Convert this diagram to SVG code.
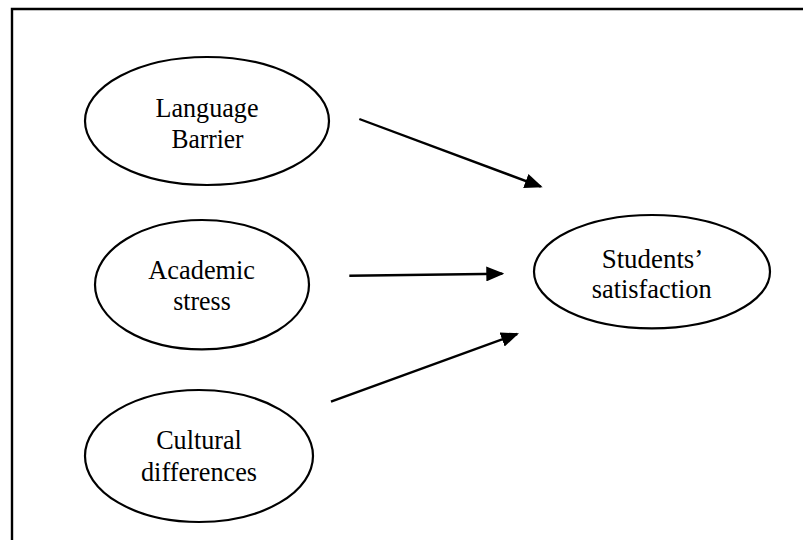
<svg xmlns="http://www.w3.org/2000/svg" width="803" height="540" viewBox="0 0 803 540">
  <style>
    .node ellipse { fill: #ffffff; stroke: #000000; stroke-width: 2.2; }
    .node text { font-family: "Liberation Serif", "Times New Roman", serif; font-size: 28px; fill: #000000; text-anchor: middle; }
    .edge { stroke: #000000; stroke-width: 2.4; fill: none; marker-end: url(#arrow); }
    .frame { stroke: #000000; stroke-width: 2.4; fill: none; }
  </style>
  <defs>
    <marker id="arrow" markerUnits="userSpaceOnUse" markerWidth="18" markerHeight="15" refX="16" refY="7.5" orient="auto">
      <path d="M0,0 L18,7.5 L0,15 z" fill="#000000"/>
    </marker>
  </defs>
  <rect x="0" y="0" width="803" height="540" fill="#ffffff"/>
  <path class="frame" d="M12,540 V9 H803"/>

  <g id="language-barrier" class="node">
    <ellipse cx="207" cy="121" rx="122" ry="64"/>
    <text x="207" y="116.7" textLength="103" lengthAdjust="spacingAndGlyphs">Language</text>
    <text x="207.5" y="148.3" textLength="72" lengthAdjust="spacingAndGlyphs">Barrier</text>
  </g>

  <g id="academic-stress" class="node">
    <ellipse cx="202" cy="284.7" rx="107" ry="64.7"/>
    <text x="201.7" y="279.3" textLength="106.7" lengthAdjust="spacingAndGlyphs">Academic</text>
    <text x="202" y="310" textLength="57.4" lengthAdjust="spacingAndGlyphs">stress</text>
  </g>

  <g id="cultural-differences" class="node">
    <ellipse cx="199" cy="456" rx="114" ry="66"/>
    <text x="199" y="449.3" textLength="85.7" lengthAdjust="spacingAndGlyphs">Cultural</text>
    <text x="199" y="481" textLength="116" lengthAdjust="spacingAndGlyphs">differences</text>
  </g>

  <g id="students-satisfaction" class="node">
    <ellipse cx="652" cy="271.7" rx="118" ry="56.7"/>
    <text x="652.5" y="268.3" textLength="101.6" lengthAdjust="spacingAndGlyphs">Students’</text>
    <text x="651.7" y="298.3" textLength="120" lengthAdjust="spacingAndGlyphs">satisfaction</text>
  </g>

  <g id="connectors">
    <line class="edge" x1="359.3" y1="119" x2="540.8" y2="186.6"/>
    <line class="edge" x1="349.3" y1="275.7" x2="502.3" y2="273.7"/>
    <line class="edge" x1="331" y1="401.7" x2="517.1" y2="334"/>
  </g>
</svg>
